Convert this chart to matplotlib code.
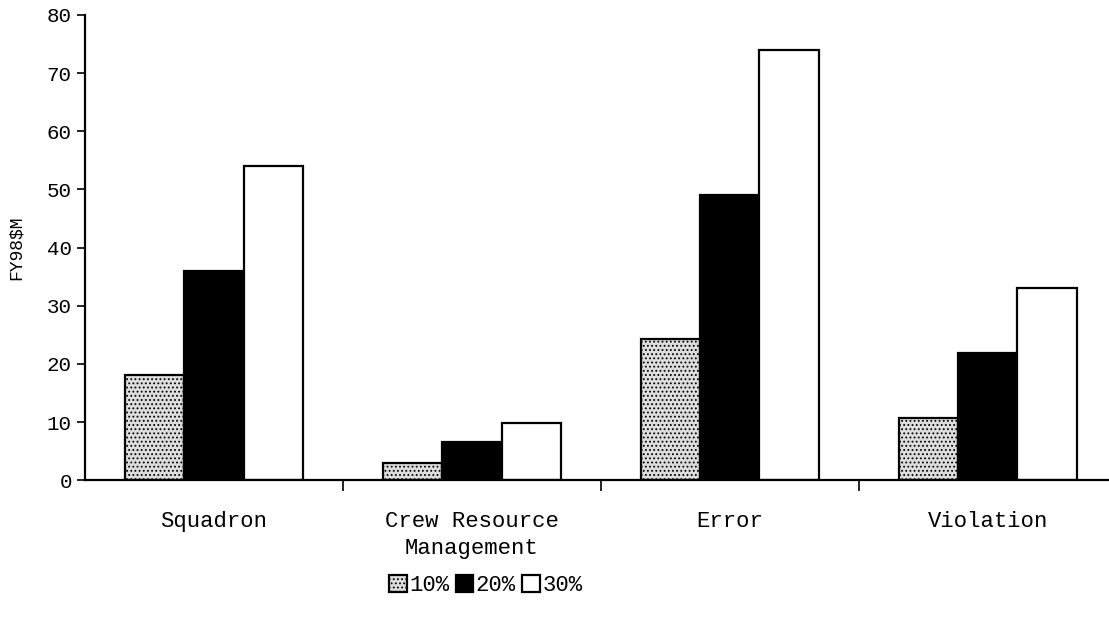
"""
Cost by factor category for three reduction levels (FY98 $M).
"""
import numpy as np
import matplotlib.pyplot as plt
from matplotlib.ticker import FixedLocator

categories = ["Squadron", "Crew Resource\nManagement", "Error", "Violation"]
series_names = ["10%", "20%", "30%"]
values_10 = [18, 3, 24.3, 10.7]
values_20 = [36, 6.5, 49, 21.9]
values_30 = [54, 9.8, 74, 33]
y_ticks = [0, 10, 20, 30, 40, 50, 60, 70, 80]

plt.rcParams["font.family"] = ["Liberation Mono", "DejaVu Sans Mono"]
plt.rcParams["hatch.color"] = "#8a8a8a"
plt.rcParams["hatch.linewidth"] = 0.8

fig = plt.figure(figsize=(11.09, 6.18), dpi=100)
ax = fig.add_axes([0.0766, 0.223, 0.9234, 0.753])

x = np.arange(len(categories))
width = 0.23
faces = ["#dcdcdc", "black", "white"]
hatches = ["....", None, None]
for i, (name, vals) in enumerate(zip(series_names, [values_10, values_20, values_30])):
    ax.bar(
        x + (i - 1) * width,
        vals,
        width,
        color=faces[i],
        edgecolor="black",
        linewidth=1.6,
        hatch=hatches[i],
        label=name,
    )

ax.set_xlim(-0.5, 3.47)
ax.set_ylim(0, 80)
ax.set_yticks(y_ticks)
ax.tick_params(axis="y", labelsize=15, length=6, width=1.2, direction="out")
ax.set_ylabel("FY98$M", fontsize=13, labelpad=16)

ax.set_xticks(x)
ax.set_xticklabels(categories, fontsize=16, linespacing=1.4)
ax.tick_params(axis="x", which="major", length=0, pad=22)
ax.xaxis.set_minor_locator(FixedLocator([0.5, 1.5, 2.5]))
ax.tick_params(axis="x", which="minor", length=8, width=1.2, direction="out")

for side in ["top", "right"]:
    ax.spines[side].set_visible(False)
ax.spines["left"].set_linewidth(1.6)
ax.spines["bottom"].set_linewidth(1.6)

fig.legend(
    loc="center",
    bbox_to_anchor=(0.438, 0.052),
    ncol=3,
    frameon=False,
    fontsize=16,
    handlelength=0.8,
    handleheight=0.8,
    handletextpad=0.1,
    columnspacing=0.3,
)

fig.savefig("out.png", dpi=100)
